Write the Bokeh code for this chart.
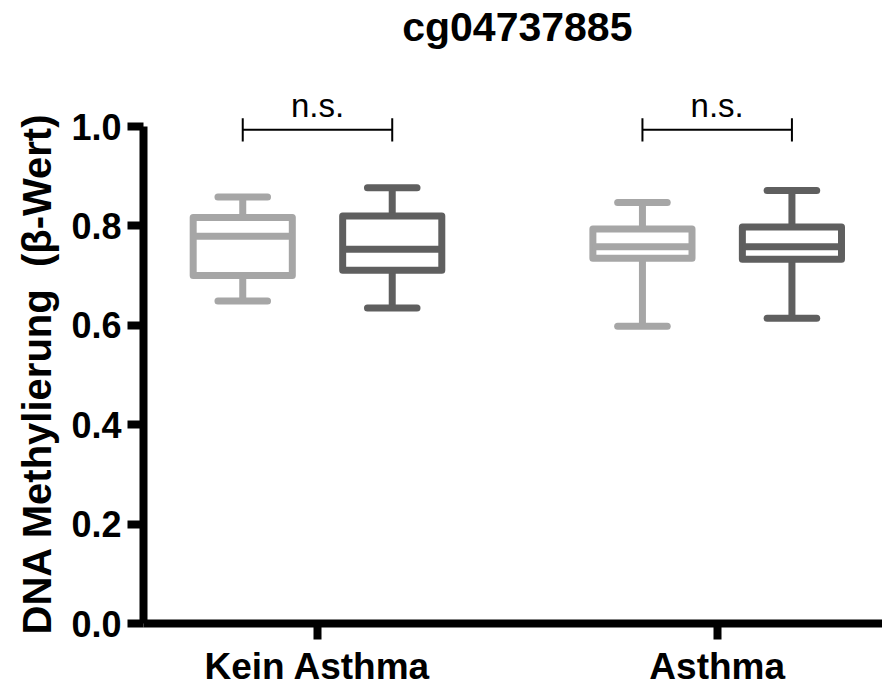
from bokeh.plotting import figure
from bokeh.models import Range1d, FixedTicker, PrintfTickFormatter, Title
from bokeh.core.properties import value
from bokeh.embed import file_html
from bokeh.resources import INLINE

# ---- data ----
title_text = "cg04737885"
groups = ["Kein Asthma", "Asthma"]
group_pos = [1, 2]
y_ticks = [0.0, 0.2, 0.4, 0.6, 0.8, 1.0]
y_label = "DNA Methylierung  (β-Wert)"
sig_labels = ["n.s.", "n.s."]

light_low = [0.649, 0.598]
light_q1 = [0.700, 0.735]
light_med = [0.779, 0.758]
light_q3 = [0.817, 0.794]
light_high = [0.858, 0.847]

dark_low = [0.635, 0.614]
dark_q1 = [0.711, 0.733]
dark_med = [0.753, 0.758]
dark_q3 = [0.820, 0.798]
dark_high = [0.877, 0.871]

# ---- styles ----
LIGHT = "#A6A6A6"
DARK = "#5F5F5F"
FONT = "Liberation Sans"
OFF = 0.187
BOX_W = 0.248
CAP_W = 0.124
LW = 7

p = figure(width=882, height=689,
           x_range=Range1d(0.5647, 2.4136), y_range=Range1d(0, 623 / 497),
           output_backend="svg", toolbar_location=None,
           min_border_left=143, min_border_right=0, min_border_top=0, min_border_bottom=66)
p.outline_line_color = None
p.grid.visible = False
p.background_fill_color = "white"
p.border_fill_color = "white"

def draw_boxes(offset, low, q1, med, q3, high, color):
    xs = [g + offset for g in group_pos]
    left = [x - BOX_W / 2 for x in xs]
    right = [x + BOX_W / 2 for x in xs]
    cl = [x - CAP_W / 2 for x in xs]
    cr = [x + CAP_W / 2 for x in xs]
    p.segment(x0=xs, y0=q3, x1=xs, y1=high, line_color=color, line_width=LW)
    p.segment(x0=xs, y0=low, x1=xs, y1=q1, line_color=color, line_width=LW)
    p.segment(x0=cl, y0=high, x1=cr, y1=high, line_color=color, line_width=LW, line_cap="round")
    p.segment(x0=cl, y0=low, x1=cr, y1=low, line_color=color, line_width=LW, line_cap="round")
    p.quad(left=left, right=right, bottom=q1, top=q3, fill_color="white",
           line_color=color, line_width=LW, line_join="round")
    p.segment(x0=left, y0=med, x1=right, y1=med, line_color=color, line_width=LW)
    return xs

xl = draw_boxes(-OFF, light_low, light_q1, light_med, light_q3, light_high, LIGHT)
xd = draw_boxes(OFF, dark_low, dark_q1, dark_med, dark_q3, dark_high, DARK)

# significance brackets
by = 0.9934
p.segment(x0=xl, y0=[by] * 2, x1=xd, y1=[by] * 2, line_color="black", line_width=2)
p.segment(x0=xl, y0=[0.9698] * 2, x1=xl, y1=[1.0167] * 2, line_color="black", line_width=2)
p.segment(x0=xd, y0=[0.9698] * 2, x1=xd, y1=[1.0167] * 2, line_color="black", line_width=2)
p.text(x=[(a + b) / 2 for a, b in zip(xl, xd)], y=[1.043] * 2, text=sig_labels,
       text_align="center", text_baseline="alphabetic", text_font=value(FONT),
       text_font_size="33px", text_color="black")

# title
p.text(x=[1.5], y=[1.2006], text=[title_text], text_align="center", text_baseline="alphabetic",
       text_font=value(FONT), text_font_size="41px", text_font_style="bold", text_color="black")

# y-axis title: left-side Title, starting just below the 0 line
p.add_layout(Title(text=y_label.replace("  ", "\u00a0 "), align="left", offset=-11, standoff=16,
                   vertical_align="top",
                   text_font=FONT, text_font_size="40px", text_font_style="bold",
                   text_color="black"), "left")

# axes
for ax in (p.xaxis[0], p.yaxis[0]):
    ax.axis_line_width = 8
    ax.axis_line_color = "black"
    ax.major_tick_line_width = 8
    ax.major_tick_line_color = "black"
    ax.major_tick_in = 0
    ax.major_tick_out = 16
    ax.minor_tick_line_color = None
    ax.major_label_text_font = FONT
    ax.major_label_text_font_style = "bold"
    ax.major_label_text_color = "black"

p.yaxis.bounds = (0, 1.0)
p.yaxis.ticker = FixedTicker(ticks=y_ticks)
p.yaxis.formatter = PrintfTickFormatter(format="%.1f")
p.yaxis.major_label_text_font_size = "36px"
p.yaxis.major_label_standoff = 6

p.xaxis.ticker = FixedTicker(ticks=group_pos)
p.xaxis.major_label_overrides = {g: n for g, n in zip(group_pos, groups)}
p.xaxis.major_label_text_font_size = "37px"
p.xaxis.major_label_standoff = 6

open("out.html", "w").write(file_html(p, INLINE))
